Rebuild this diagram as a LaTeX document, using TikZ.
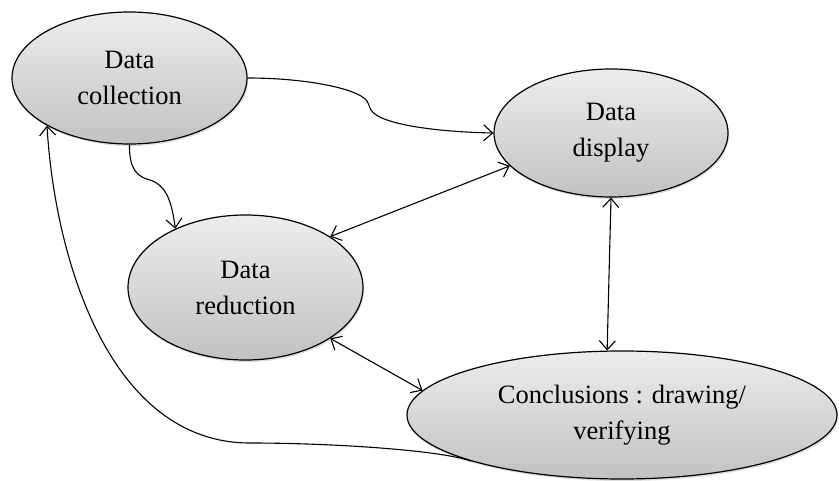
\documentclass[tikz,border=0pt]{standalone}
\usepackage{fontspec}
\setmainfont{Liberation Serif}
\usepackage{tikz}
\usetikzlibrary{shapes.geometric, arrows.meta, shadows}

\begin{document}
\begin{tikzpicture}[x=1pt, y=-1pt,
		stage/.style={draw, ellipse, line width=1.2pt, inner sep=0pt, align=center,
			top color=gray!14, bottom color=gray!48,
			drop shadow={opacity=.25, shadow xshift=1pt, shadow yshift=-2pt},
			font=\fontsize{26.5}{36}\selectfont},
		flow/.style={line width=1.1pt, -{Straight Barb[length=9pt, width=16pt]}},
		both/.style={line width=1.1pt, {Straight Barb[length=9pt, width=16pt]}-{Straight Barb[length=9pt, width=16pt]}}]

		\useasboundingbox (0,0) rectangle (839,481);

		\node[stage, minimum width=235pt, minimum height=132pt] (collect) at (129.5,78) {Data\\collection};
		\node[stage, minimum width=234pt, minimum height=128pt] (display) at (611,133) {Data\\display};
		\node[stage, minimum width=235pt, minimum height=145pt] (reduce) at (245.5,287.5) {Data\\reduction};
		\node[stage, minimum width=430pt, minimum height=128pt] (conclude) at (622,415) {Conclusions : drawing/\\verifying};

		% bends of the curved links
		\coordinate (k1) at (368,103);
		\coordinate (k2) at (371,110);
		\coordinate (k3) at (150,180);
		\coordinate (k4) at (250,443);

		\draw[flow] (collect.east) .. controls (310,78) and (364,90) .. (k1) -- (k2)
			.. controls (380,125) and (440,132) .. (display.west);
		\draw[flow] (collect.south) .. controls (129,170) and (138,177) .. (k3)
			.. controls (168,186) and (172,205) .. (reduce.140);
		\draw[both] (display.198) -- (reduce.31);
		\draw[both] (display.south) -- (conclude.103);
		\draw[both] (reduce.-31) -- (conclude.173);
		\draw[flow] (conclude.197) .. controls (440,450) and (330,443) .. (k4)
			.. controls (110,443) and (55,260) .. (collect.210);
\end{tikzpicture}
\end{document}
